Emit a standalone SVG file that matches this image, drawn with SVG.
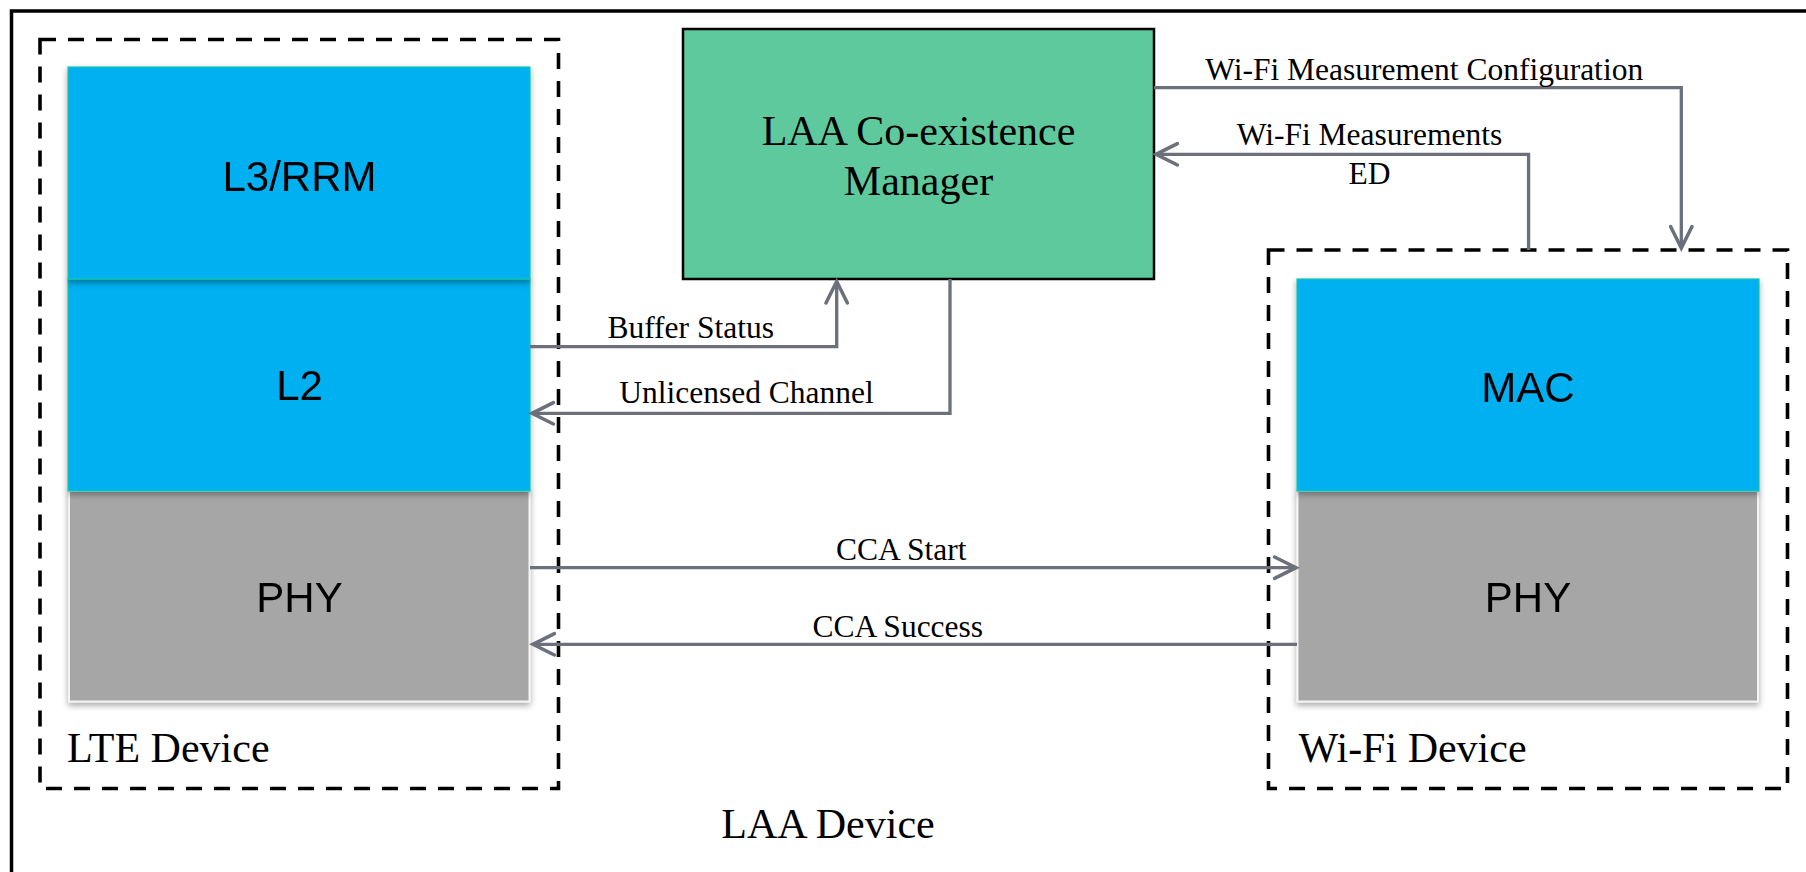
<svg xmlns="http://www.w3.org/2000/svg" width="1806" height="872" viewBox="0 0 1806 872">
  <style>
    .frame { fill: none; stroke: #000; stroke-width: 3.5; }
    .dash { fill: none; stroke: #000; stroke-width: 3.6; stroke-dasharray: 16 12; }
    .blue { fill: #00B0F0; stroke: #10C8A8; stroke-width: 1.2; }
    .gray { fill: #A6A6A6; stroke: #F4F4F4; stroke-width: 2; }
    .mgr { fill: #5EC99C; stroke: #000; stroke-width: 2.5; }
    .sans { font-family: "Liberation Sans", Arial, sans-serif; font-size: 42px; fill: #000; text-anchor: middle; }
    .serif { font-family: "Liberation Serif", "Times New Roman", serif; fill: #000; }
    .big { font-size: 42px; }
    .lbl { font-size: 31.5px; text-anchor: middle; }
    .conn { fill: none; stroke: #6B707C; stroke-width: 3.3; stroke-linejoin: miter; }
  </style>
  <defs>
    <filter id="sh" x="-5%" y="-5%" width="110%" height="115%">
      <feDropShadow dx="0" dy="3" stdDeviation="3" flood-color="#000" flood-opacity="0.35"/>
    </filter>
    <marker id="arr" markerUnits="userSpaceOnUse" markerWidth="30" markerHeight="30" viewBox="-24 -13 28 26" refX="0" refY="0" orient="auto">
      <path d="M-20,-10 L0,0 L-20,10" fill="none" stroke="#6B707C" stroke-width="3.3" stroke-linecap="round"/>
    </marker>
  </defs>
  <rect width="1806" height="872" fill="#fff"/>
  <path class="frame" d="M11.5,880 V11 H1810"/>

  <g id="lte-device">
    <rect class="dash" x="40" y="39.5" width="518.5" height="749"/>
    <text class="serif big" x="67" y="761.5">LTE Device</text>
  </g>
  <g id="wifi-device">
    <rect class="dash" x="1268.5" y="250" width="519" height="538.5"/>
    <text class="serif big" x="1298.5" y="761.5">Wi-Fi Device</text>
  </g>

  <g id="lte-phy" filter="url(#sh)">
    <rect class="gray" x="69" y="491" width="460.5" height="210.5"/>
    <text class="sans" x="299.5" y="612">PHY</text>
  </g>
  <g id="lte-l2" filter="url(#sh)">
    <rect class="blue" x="68" y="279" width="462" height="212"/>
    <text class="sans" x="299.5" y="400">L2</text>
  </g>
  <g id="lte-l3" filter="url(#sh)">
    <rect class="blue" x="68" y="67" width="462" height="212"/>
    <text class="sans" x="299.5" y="190.5">L3/RRM</text>
  </g>

  <g id="wifi-phy" filter="url(#sh)">
    <rect class="gray" x="1297.5" y="491" width="460.5" height="210.5"/>
    <text class="sans" x="1528" y="612">PHY</text>
  </g>
  <g id="wifi-mac" filter="url(#sh)">
    <rect class="blue" x="1297" y="279" width="462" height="212"/>
    <text class="sans" x="1528" y="401.5">MAC</text>
  </g>

  <g id="coexistence-manager">
    <rect class="mgr" x="683" y="29" width="471" height="250"/>
    <text class="serif big" x="918.5" y="145" text-anchor="middle">LAA Co-existence</text>
    <text class="serif big" x="918.5" y="195" text-anchor="middle">Manager</text>
  </g>

  <g id="laa-device">
    <text class="serif big" x="828" y="838" text-anchor="middle">LAA Device</text>
  </g>

  <g id="connectors">
    <path class="conn" d="M530,346.7 H836.7 V281.5" marker-end="url(#arr)"/>
    <path class="conn" d="M950,279 V413.3 H532" marker-end="url(#arr)"/>
    <path class="conn" d="M1154,87.7 H1681.3 V248" marker-end="url(#arr)"/>
    <path class="conn" d="M1528.6,250 V154.3 H1156" marker-end="url(#arr)"/>
    <path class="conn" d="M530,567.7 H1296" marker-end="url(#arr)"/>
    <path class="conn" d="M1297,644.3 H533" marker-end="url(#arr)"/>
    <text class="serif lbl" x="690.7" y="338">Buffer Status</text>
    <text class="serif lbl" x="746.5" y="403">Unlicensed Channel</text>
    <text class="serif lbl" x="1424.2" y="80">Wi-Fi Measurement Configuration</text>
    <text class="serif lbl" x="1369.5" y="145">Wi-Fi Measurements</text>
    <text class="serif lbl" x="1369.5" y="184">ED</text>
    <text class="serif lbl" x="901.3" y="560">CCA Start</text>
    <text class="serif lbl" x="897.8" y="637">CCA Success</text>
  </g>
</svg>
